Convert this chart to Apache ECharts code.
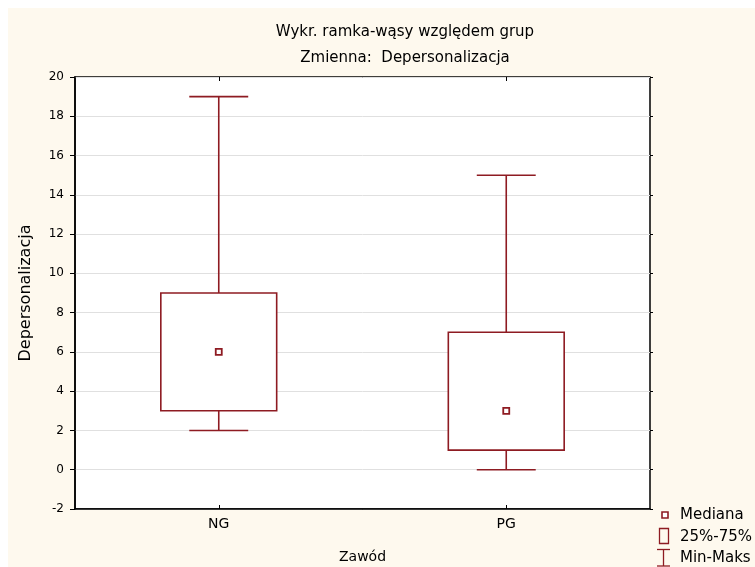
<!DOCTYPE html>
<html>
<head>
<meta charset="utf-8">
<script src="https://cdn.jsdelivr.net/npm/echarts@6/dist/echarts.min.js"></script>
<style>html,body{margin:0;padding:0;background:#fff;}#c{width:755px;height:567px;}</style>
</head>
<body>
<div id="c"></div>
<script>
const categories = ['NG', 'PG'];
const minVals = [2, 0];
const q1Vals = [3, 1];
const medianVals = [6, 3];
const q3Vals = [9, 7];
const maxVals = [19, 15];
const yTicks = { min: -2, max: 20, interval: 2 };
const legendLabels = ['Mediana', '25%-75%', 'Min-Maks'];

const RED = '#8e1b22';
const FONT = 'DejaVu Sans';

const boxData = categories.map((c, i) => [i, q1Vals[i], q3Vals[i]]);
const whiskerData = categories.map((c, i) => [i, minVals[i], maxVals[i], q1Vals[i], q3Vals[i]]);
const medianData = categories.map((c, i) => [i, medianVals[i]]);

function renderBox(params, api) {
  const x = api.value(0);
  const pHi = api.coord([x, api.value(2)]);
  const pLo = api.coord([x, api.value(1)]);
  const band = api.size([1, 0])[0];
  const w = band * 0.403;
  return {
    type: 'rect', z2: 10,
    shape: { x: pHi[0] - w / 2, y: pHi[1], width: w, height: pLo[1] - pHi[1] },
    style: { fill: '#fff', stroke: RED, lineWidth: 1.6 }
  };
}
function renderWhisker(params, api) {
  const x = api.value(0);
  const pMin = api.coord([x, api.value(1)]);
  const pMax = api.coord([x, api.value(2)]);
  const pQ1 = api.coord([x, api.value(3)]);
  const pQ3 = api.coord([x, api.value(4)]);
  const band = api.size([1, 0])[0];
  const cw = band * 0.205;
  const st = { stroke: RED, lineWidth: 1.6 };
  return {
    type: 'group',
    children: [
      { type: 'line', shape: { x1: pMax[0], y1: pMax[1], x2: pQ3[0], y2: pQ3[1] }, style: st },
      { type: 'line', shape: { x1: pMax[0] - cw / 2, y1: pMax[1], x2: pMax[0] + cw / 2, y2: pMax[1] }, style: st },
      { type: 'line', shape: { x1: pQ1[0], y1: pQ1[1], x2: pMin[0], y2: pMin[1] }, style: st },
      { type: 'line', shape: { x1: pMin[0] - cw / 2, y1: pMin[1], x2: pMin[0] + cw / 2, y2: pMin[1] }, style: st }
    ]
  };
}

const legendTextStyle = (txt, y) => ({
  type: 'text', x: 680, y: y, silent: true,
  style: { text: txt, fontFamily: FONT, fontSize: 15, fill: '#000', verticalAlign: 'middle', align: 'left' }
});

const chart = echarts.init(document.getElementById('c'), null, { renderer: 'canvas' });
chart.setOption({
  animation: false,
  backgroundColor: 'transparent',
  textStyle: { fontFamily: FONT, color: '#000' },
  graphic: [
    { type: 'rect', z: -100, silent: true,
      shape: { x: 8, y: 8, width: 747, height: 559 }, style: { fill: '#fef9ee' } },
    { type: 'group', silent: true, children: [
      { type: 'rect', shape: { x: 662, y: 512, width: 6, height: 6 },
        style: { fill: '#fff', stroke: RED, lineWidth: 1.6 } },
      legendTextStyle(legendLabels[0], 515),
      { type: 'rect', shape: { x: 659.5, y: 528.5, width: 9, height: 15 },
        style: { fill: 'none', stroke: RED, lineWidth: 1.3 } },
      legendTextStyle(legendLabels[1], 537),
      { type: 'line', shape: { x1: 657, y1: 549.5, x2: 670, y2: 549.5 }, style: { stroke: RED, lineWidth: 1.3 } },
      { type: 'line', shape: { x1: 663.5, y1: 549.5, x2: 663.5, y2: 566 }, style: { stroke: RED, lineWidth: 1.3 } },
      { type: 'line', shape: { x1: 657, y1: 566, x2: 670, y2: 566 }, style: { stroke: RED, lineWidth: 1.3 } },
      legendTextStyle(legendLabels[2], 558)
    ]}
  ],
  title: {
    text: 'Wykr. ramka-wąsy względem grup',
    subtext: 'Zmienna:  Depersonalizacja',
    left: 400, top: 20, textAlign: 'center',
    itemGap: 11,
    textStyle: { fontFamily: FONT, fontSize: 15, fontWeight: 'normal', color: '#000' },
    subtextStyle: { fontFamily: FONT, fontSize: 15, color: '#000' }
  },
  grid: {
    left: 75, top: 77, width: 575, height: 432,
    containLabel: false, outerBoundsMode: 'none',
    show: true, backgroundColor: '#fff', borderColor: '#000', borderWidth: 1.5
  },
  xAxis: [{
    type: 'category', data: categories, position: 'bottom',
    name: 'Zawód', nameLocation: 'middle', nameGap: 41,
    nameTextStyle: { fontFamily: FONT, fontSize: 14, color: '#000' },
    axisLine: { show: true, onZero: false, lineStyle: { color: '#000', width: 1.5 } },
    axisTick: { show: true, inside: true, alignWithLabel: true, length: 4, lineStyle: { color: '#000' } },
    axisLabel: { fontFamily: FONT, fontSize: 14, color: '#000', margin: 8 },
    splitLine: { show: false }
  }, {
    type: 'category', data: categories, position: 'top',
    axisLine: { show: false, onZero: false },
    axisTick: { show: true, inside: true, alignWithLabel: true, length: 4, lineStyle: { color: '#000' } },
    axisLabel: { show: false }
  }],
  yAxis: [{
    type: 'value', min: yTicks.min, max: yTicks.max, interval: yTicks.interval,
    name: 'Depersonalizacja', nameLocation: 'middle', nameGap: 41, nameRotate: 90,
    nameTextStyle: { fontFamily: FONT, fontSize: 16, color: '#000' },
    axisLine: { show: true, onZero: false, lineStyle: { color: '#000', width: 1.5 } },
    axisTick: { show: true, inside: false, length: 5, lineStyle: { color: '#000' } },
    axisLabel: { fontFamily: FONT, fontSize: 12, color: '#000', margin: 11 },
    splitLine: { show: true, lineStyle: { color: '#e0e0e0', width: 1 } }
  }, {
    type: 'value', min: yTicks.min, max: yTicks.max, interval: yTicks.interval, position: 'right',
    axisLine: { show: false, onZero: false },
    axisTick: { show: true, inside: false, length: 3, lineStyle: { color: '#000' } },
    axisLabel: { show: false },
    splitLine: { show: false }
  }],
  series: [{
    name: legendLabels[2], type: 'custom', renderItem: renderWhisker,
    data: whiskerData, z: 3, itemStyle: { color: RED },
    encode: { x: 0, y: [1, 2] }
  }, {
    name: legendLabels[1], type: 'custom', renderItem: renderBox,
    data: boxData, z: 4, itemStyle: { color: RED },
    encode: { x: 0, y: [1, 2] }
  }, {
    name: legendLabels[0], type: 'scatter', data: medianData, z: 5,
    symbol: 'rect', symbolSize: 6,
    itemStyle: { color: '#fff', borderColor: RED, borderWidth: 1.8, opacity: 1 }
  }]
});
</script>
</body>
</html>
